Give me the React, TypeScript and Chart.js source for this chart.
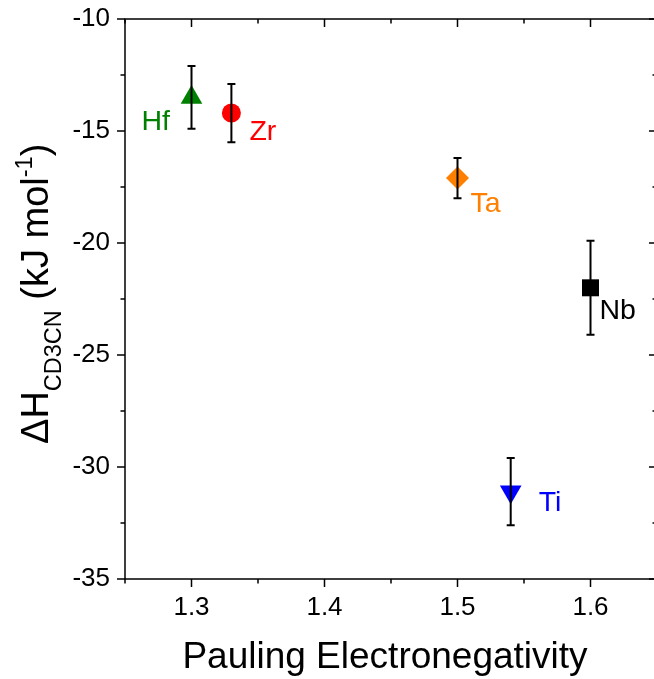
import React, { useEffect, useRef } from "react";
import { Chart, registerables } from "chart.js";

Chart.register(...registerables);

// ---- data ----
const elements = ["Hf", "Zr", "Ta", "Nb", "Ti"];
const electronegativity = [1.3, 1.33, 1.5, 1.6, 1.54];
const deltaH = [-13.5, -14.2, -17.1, -22.0, -31.1];
const deltaHErr = [1.4, 1.3, 0.9, 2.1, 1.5];
const xTicks = [1.3, 1.4, 1.5, 1.6];
const xMinorTicks = [1.25, 1.35, 1.45, 1.55, 1.65];
const yTicks = [-35, -30, -25, -20, -15, -10];
const yMinorTicks = [-32.5, -27.5, -22.5, -17.5, -12.5];

// ---- styles ----
const colors = ["#008000", "#ff0000", "#ff8000", "#000000", "#0000ff"];
const pointStyles = ["triangle", "circle", "rectRot", "rect", "triangle"];
const pointRotations = [0, 0, 0, 0, 180];
const pointRadii = [12.5, 9.5, 11.5, 12, 12.5];
const labelOffsets = [
  [-50, 33],
  [18, 27],
  [13, 33.5],
  [9, 31],
  [28, 19.5],
];
const FONT = "Arial, 'Liberation Sans', sans-serif";

const VIEW_W = 654;
const W = 662;
const H = 679;

const zeroPad = (s: any) => {
  s.paddingTop = 0;
  s.paddingBottom = 0;
  s.paddingLeft = 0;
  s.paddingRight = 0;
};

const decorPlugin = {
  id: "decor",
  afterDatasetsDraw(chart: any) {
    const { ctx, chartArea: a, scales } = chart;
    const xs = scales.x;
    const ys = scales.y;
    ctx.save();
    // error bars
    ctx.strokeStyle = "#000";
    ctx.lineWidth = 2;
    for (let i = 0; i < elements.length; i++) {
      const px = xs.getPixelForValue(electronegativity[i]);
      const top = ys.getPixelForValue(deltaH[i] + deltaHErr[i]);
      const bot = ys.getPixelForValue(deltaH[i] - deltaHErr[i]);
      ctx.beginPath();
      ctx.moveTo(px, top);
      ctx.lineTo(px, bot);
      ctx.moveTo(px - 4, top);
      ctx.lineTo(px + 4, top);
      ctx.moveTo(px - 4, bot);
      ctx.lineTo(px + 4, bot);
      ctx.stroke();
    }
    // frame
    ctx.lineWidth = 1.5;
    ctx.strokeRect(a.left, a.top, a.right - a.left, a.bottom - a.top);
    // ticks
    ctx.beginPath();
    const major = 8;
    const minor = 4.5;
    const xt = (v: number, len: number) => {
      const p = xs.getPixelForValue(v);
      ctx.moveTo(p, a.bottom);
      ctx.lineTo(p, a.bottom + len);
      ctx.moveTo(p, a.top);
      ctx.lineTo(p, a.top + len);
    };
    const yt = (v: number, len: number) => {
      const p = ys.getPixelForValue(v);
      ctx.moveTo(a.left, p);
      ctx.lineTo(a.left - len, p);
      ctx.moveTo(a.right, p);
      ctx.lineTo(a.right - len, p);
    };
    xTicks.forEach((v) => xt(v, major));
    xMinorTicks.forEach((v) => xt(v, minor));
    yTicks.forEach((v) => yt(v, major));
    yMinorTicks.forEach((v) => yt(v, minor));
    ctx.stroke();

    // point labels
    ctx.font = `28.5px ${FONT}`;
    ctx.textAlign = "left";
    ctx.textBaseline = "alphabetic";
    for (let i = 0; i < elements.length; i++) {
      const px = xs.getPixelForValue(electronegativity[i]);
      const py = ys.getPixelForValue(deltaH[i]);
      ctx.fillStyle = colors[i];
      ctx.fillText(elements[i], px + labelOffsets[i][0], py + labelOffsets[i][1]);
    }

    // x title
    ctx.fillStyle = "#000";
    ctx.font = `37px ${FONT}`;
    ctx.textAlign = "center";
    ctx.fillText("Pauling Electronegativity", (a.left + a.right) / 2 - 6, 668);

    // y title (rotated, with sub/superscripts)
    ctx.save();
    ctx.translate(48, 444);
    ctx.rotate(-Math.PI / 2);
    ctx.textAlign = "left";
    let x = 0;
    const seg = (t: string, size: number, dy: number) => {
      ctx.font = `${size}px ${FONT}`;
      ctx.fillText(t, x, dy);
      x += ctx.measureText(t).width;
    };
    seg("\u0394H", 38, 0);
    seg("CD3CN", 23.5, 13);
    seg(" (kJ mol", 38, 0);
    seg("-1", 23.5, -16);
    seg(")", 38, 0);
    ctx.restore();

    ctx.restore();
  },
};

export default function App() {
  const ref = useRef<HTMLCanvasElement>(null);
  useEffect(() => {
    if (!ref.current) return;
    const datasets = elements.map((el, i) => ({
      label: el,
      data: [{ x: electronegativity[i], y: deltaH[i] }],
      pointStyle: pointStyles[i] as any,
      rotation: pointRotations[i],
      pointRadius: pointRadii[i],
      pointHoverRadius: pointRadii[i],
      backgroundColor: colors[i],
      borderColor: colors[i],
      borderWidth: 0,
      showLine: false,
      clip: false as any,
    }));
    const chart = new Chart(ref.current, {
      type: "scatter",
      data: { datasets },
      options: {
        animation: false,
        responsive: false,
        devicePixelRatio: 1,
        events: [],
        layout: { autoPadding: false, padding: { top: 19, right: W - 657, left: 0, bottom: 0 } },
        plugins: { legend: { display: false }, tooltip: { enabled: false } },
        scales: {
          x: {
            type: "linear",
            min: 1.25,
            max: 1.65,
            grid: { display: false, drawTicks: false },
            border: { display: false },
            afterBuildTicks: (s: any) => {
              s.ticks = xTicks.map((v) => ({ value: v }));
            },
            afterFit: (s: any) => {
              s.height = 100;
              zeroPad(s);
            },
            ticks: {
              color: "#000",
              font: { size: 26, family: FONT },
              padding: 13,
              maxRotation: 0,
              callback: (v: any) => Number(v).toFixed(1),
            },
          },
          y: {
            type: "linear",
            min: -35,
            max: -10,
            grid: { display: false, drawTicks: false },
            border: { display: false },
            afterBuildTicks: (s: any) => {
              s.ticks = yTicks.map((v) => ({ value: v }));
            },
            afterFit: (s: any) => {
              s.width = 125;
              zeroPad(s);
            },
            ticks: {
              color: "#000",
              font: { size: 26, family: FONT },
              padding: 15,
              callback: (v: any) => String(v),
            },
          },
        },
      },
      plugins: [decorPlugin],
    });
    return () => chart.destroy();
  }, []);
  return (
    <div
      style={{
        position: "absolute",
        left: 0,
        top: 0,
        width: VIEW_W,
        height: H,
        overflow: "hidden",
        background: "#fff",
      }}
    >
      <canvas ref={ref} width={W} height={H} style={{ display: "block", width: W, height: H }} />
    </div>
  );
}
